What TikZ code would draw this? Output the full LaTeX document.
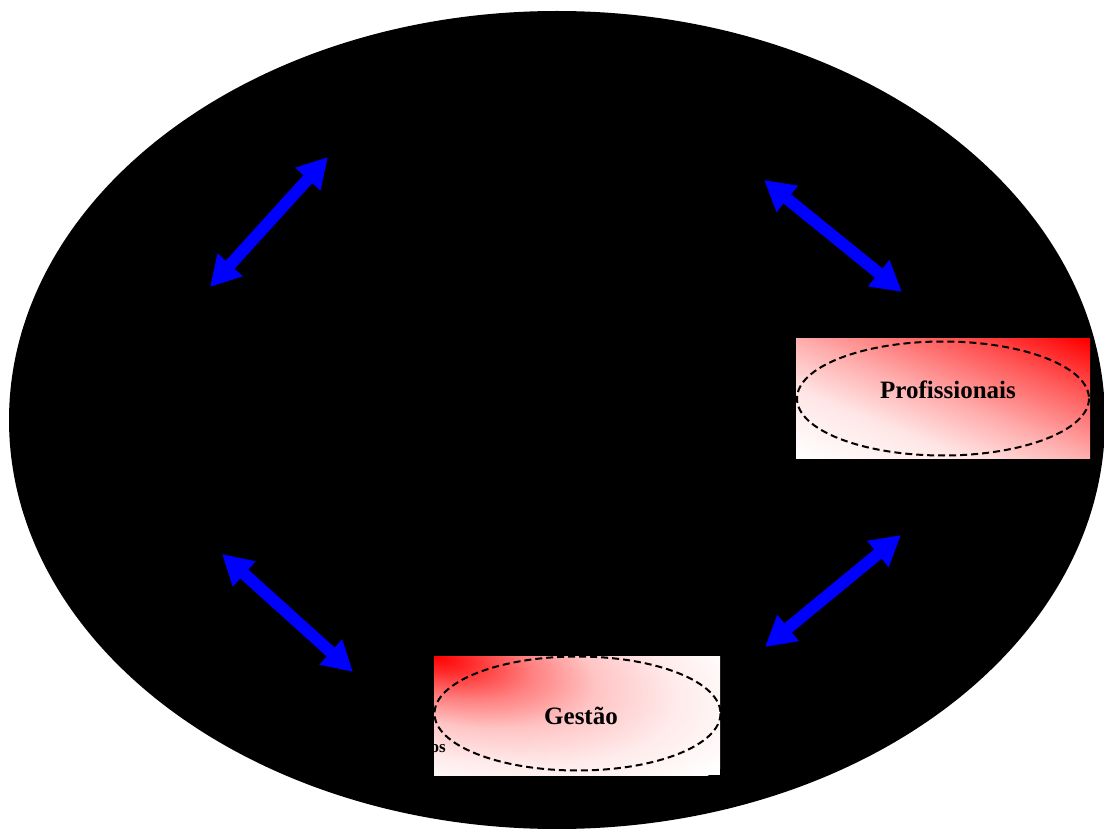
\documentclass[tikz,border=0pt]{standalone}
\usepackage{fontspec}
\setmainfont{Liberation Serif}
\usetikzlibrary{arrows.meta}
\definecolor{pureblue}{RGB}{0,0,255}
\definecolor{purered}{RGB}{255,0,0}
\pgfdeclareverticalshading{profshade}{100bp}{color(0bp)=(white); color(15bp)=(white); color(35bp)=(purered!10); color(50bp)=(purered!32); color(70bp)=(purered!68); color(85bp)=(purered); color(100bp)=(purered)}
\pgfdeclareradialshading{gestshade}{\pgfpoint{0bp}{0bp}}{color(0bp)=(purered); color(2.5bp)=(purered!85); color(7.5bp)=(purered!50); color(12.5bp)=(purered!23); color(16.25bp)=(purered!14); color(18.75bp)=(purered!8); color(22.5bp)=(purered!3); color(25bp)=(white); color(50bp)=(white)}
\tikzset{
  dblarrow/.style={draw=pureblue, line width=12pt,
    {Triangle[length=30pt,width=32pt]}-{Triangle[length=30pt,width=32pt]}},
  dashell/.style={draw=black, line width=2pt, dash pattern=on 7pt off 4pt},
  lbl/.style={font=\fontsize{25}{29}\selectfont\bfseries, text=black, inner sep=0pt}
}
\begin{document}
\begin{tikzpicture}[x=1pt,y=-1pt]
\useasboundingbox (0,0) rectangle (1104,829);
\fill[white] (0,0) rectangle (1104,829);
% big black ellipse
\fill[black] (557,420) ellipse [x radius=548, y radius=409];
% arrow end points
\coordinate (a1s) at (210,287); \coordinate (a1e) at (328,157);
\coordinate (a2s) at (764,180); \coordinate (a2e) at (902,292);
\coordinate (a3s) at (765,647); \coordinate (a3e) at (901,535);
\coordinate (a4s) at (222,554); \coordinate (a4e) at (353,672);
\draw[dblarrow] (a1s) -- (a1e);
\draw[dblarrow] (a2s) -- (a2e);
\draw[dblarrow] (a3s) -- (a3e);
\draw[dblarrow] (a4s) -- (a4e);
% Profissionais box (shaded in a normalised square)
\begin{scope}[transform canvas={xshift=796pt, yshift=-339pt, xscale=2.94, yscale=1.19}]
\shade[shading=profshade, shading angle=-45] (0,0) rectangle (100,100);
\end{scope}
\draw[dashell] (943,398.5) ellipse [x radius=146, y radius=57];
\node[lbl] (prof) at (948,390) {Profissionais};
% Gestao box: elliptical gradient from the top-left corner
\fill[white] (434,656) rectangle (720,775);
\begin{scope}
\clip (434,656) rectangle (720,775);
\begin{scope}[transform canvas={xshift=434pt, yshift=-656pt, rotate=-12, xscale=3.3, yscale=1.3}]
\shade[shading=gestshade] (0,0) circle (100);
\end{scope}
\end{scope}
\draw[dashell] (577.5,713.5) ellipse [x radius=143, y radius=57];
\node[lbl] (gest) at (581,716) {Gestão};
\node[font=\fontsize{17}{19}\selectfont\bfseries, inner sep=0pt, anchor=base east] (os) at (446,752) {os};
\end{tikzpicture}
\end{document}
